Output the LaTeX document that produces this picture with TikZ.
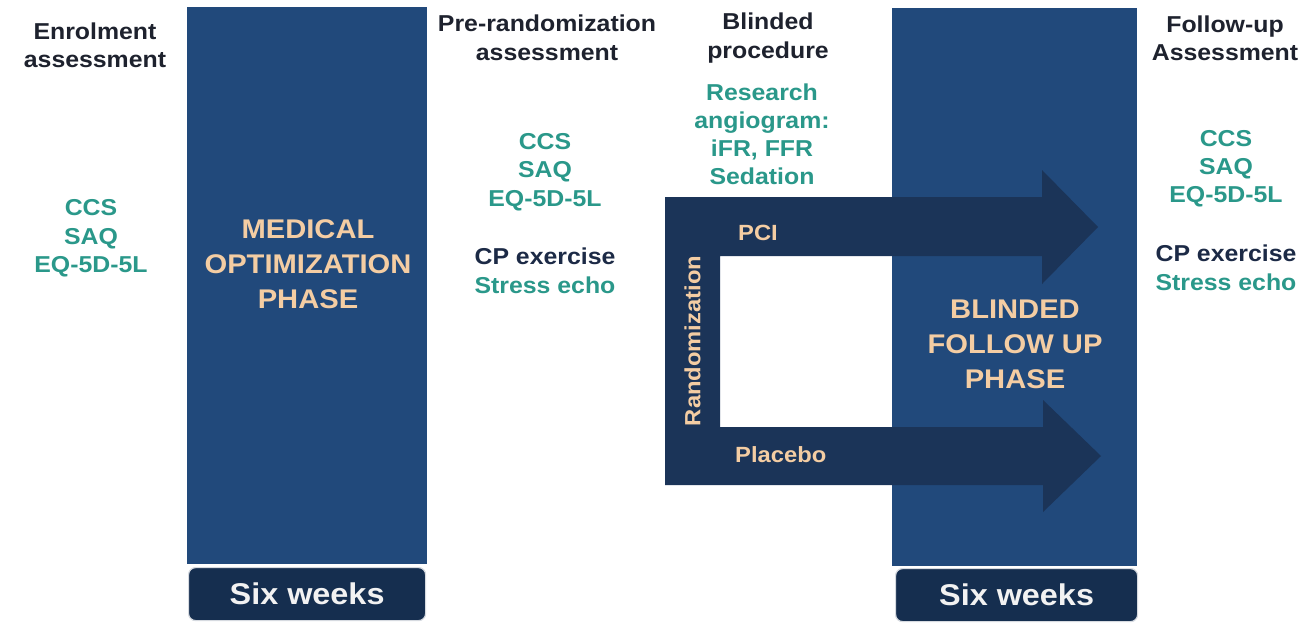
\documentclass[tikz,border=0pt]{standalone}
\usepackage{fontspec}
\setmainfont[FakeStretch=1.08]{Liberation Sans}
\definecolor{phaseblue}{RGB}{33,73,123}
\definecolor{armnavy}{RGB}{27,52,88}
\definecolor{weeknavy}{RGB}{21,46,79}
\definecolor{peach}{RGB}{244,205,163}
\definecolor{teal}{RGB}{42,152,138}
\definecolor{inkdark}{RGB}{30,34,46}
\definecolor{inknavy}{RGB}{28,42,70}
\definecolor{halo}{RGB}{214,218,224}
\begin{document}
\begin{tikzpicture}[x=1pt,y=-1pt,
  txt/.style={font=\fontsize{23}{28.5}\selectfont\bfseries, align=center, inner sep=0pt, yshift=-1.5pt},
  head/.style={txt, text=inkdark},
  measure/.style={txt, text=teal},
  phasetxt/.style={font=\fontsize{27}{35}\selectfont\bfseries, align=center, text=peach, inner sep=0pt, yshift=-1pt},
  armtxt/.style={font=\fontsize{22}{26}\selectfont\bfseries, text=peach, inner sep=0pt},
  phasebox/.style={fill=phaseblue, draw=none, anchor=north west, inner sep=0pt},
  weekbox/.style={fill=weeknavy, draw=halo, line width=1.2pt, rounded corners=7pt, anchor=north west,
    inner sep=0pt, text=white!95!black, font=\fontsize{30}{34}\selectfont\bfseries},
  arm/.style={fill=armnavy, draw=none}
]
\useasboundingbox (0,0) rectangle (1306,624);
\fill[white] (0,0) rectangle (1306,624);

% phase columns
\node[phasebox, minimum width=240pt, minimum height=557pt] (medphase) at (187,7) {};
\node[phasebox, minimum width=245pt, minimum height=558pt] (fuphase) at (892,8) {};

% duration tabs
\node[weekbox, minimum width=237pt, minimum height=53pt] (weeks1) at (188,567) {Six weeks};
\node[weekbox, minimum width=242pt, minimum height=53pt] (weeks2) at (895,568) {Six weeks};

% randomization bar and both treatment arms drawn as one shape
\coordinate (rand) at (692.5,341);
\coordinate (randNW) at (665,197);
\coordinate (randSW) at (665,485);
\fill[arm] (randNW) -- (1042,197) -- (1042,170) -- (1098,227) -- (1042,284) -- (1042,256)
  -- (720,256) -- (720,427) -- (1043,427) -- (1043,400) -- (1101,456) -- (1043,512) -- (1043,485)
  -- (randSW) -- cycle;
\node[armtxt, rotate=90] (randlbl) at (rand) {Randomization};
\node[armtxt, anchor=west] (pci) at (738,233) {PCI};
\node[armtxt, anchor=west] (placebo) at (735,455) {Placebo};

% phase titles
\node[phasetxt] (medtitle) at (308,263) {MEDICAL\\OPTIMIZATION\\PHASE};
\node[phasetxt] (futitle) at (1015,343.5) {BLINDED\\FOLLOW UP\\PHASE};

% column headings
\node[head] (enrol) at (95,44) {Enrolment\\assessment};
\node[head] (prerand) at (547,36.5) {Pre-randomization\\assessment};
\node[head] (blinded) at (768,36.5) {Blinded\\procedure};
\node[head] (followup) at (1225,37) {Follow-up\\Assessment};

% assessments at each time point
\node[measure] (enrolq) at (91,237) {CCS\\SAQ\\EQ-5D-5L};
\node[measure] (preq) at (545,170.5) {CCS\\SAQ\\EQ-5D-5L};
\node[txt] (pretests) at (545,269.5) {\textcolor{inknavy}{CP exercise}\\\textcolor{teal}{Stress echo}};
\node[measure, font=\fontsize{23}{28}\selectfont\bfseries] (procq) at (762,133) {Research\\angiogram:\\iFR, FFR\\Sedation};
\node[measure, font=\fontsize{23}{28}\selectfont\bfseries] (fuq) at (1226,167) {CCS\\SAQ\\EQ-5D-5L};
\node[txt] (futests) at (1226,266.5) {\textcolor{inknavy}{CP exercise}\\\textcolor{teal}{Stress echo}};
\end{tikzpicture}
\end{document}
